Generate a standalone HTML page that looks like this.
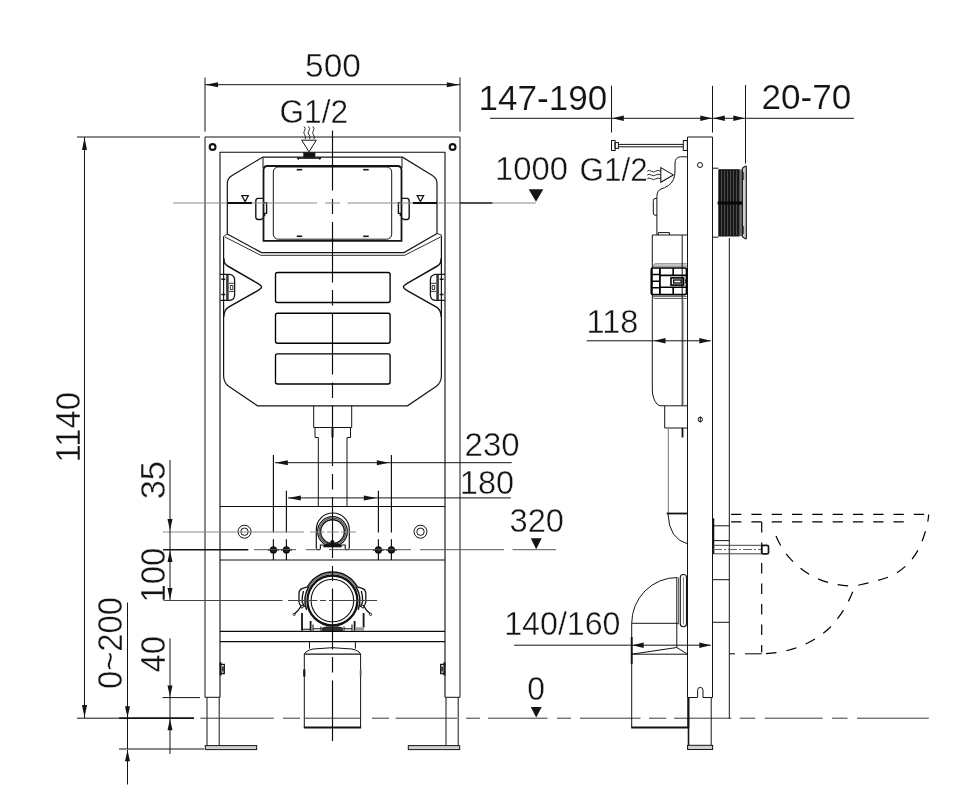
<!DOCTYPE html>
<html lang="en">
<head>
<meta charset="utf-8">
<title>Installation dimensions</title>
<style>
html,body{margin:0;padding:0;background:#fff;}
body{width:960px;height:800px;overflow:hidden;}
svg{display:block;}
svg{will-change:transform;}
svg text{font-family:"Liberation Sans",sans-serif;fill:#141414;stroke:#ffffff;}
</style>
</head>
<body>
<svg width="960" height="800" viewBox="0 0 960 800">
<rect x="0" y="0" width="960" height="800" fill="#ffffff"/>
<line x1="205" y1="77.5" x2="205" y2="131.7" stroke="#141414" stroke-width="1" />
<line x1="460" y1="77.5" x2="460" y2="131.7" stroke="#141414" stroke-width="1" />
<line x1="205" y1="84.7" x2="460" y2="84.7" stroke="#141414" stroke-width="1" />
<polygon points="205.50,84.70 218.00,82.20 218.00,87.20" fill="#141414"/>
<polygon points="459.30,84.70 446.80,82.20 446.80,87.20" fill="#141414"/>
<text x="0" y="0" font-size="32.5" text-anchor="middle" stroke-width="0.4" transform="translate(333 76.8) scale(1.03 1)">500</text>
<text x="0" y="0" font-size="33.3" text-anchor="start" stroke-width="0.4" transform="translate(279.5 122.8) scale(0.95 1)">G1/2</text>
<line x1="77" y1="137" x2="200" y2="137" stroke="#141414" stroke-width="1" />
<line x1="84.5" y1="137" x2="84.5" y2="718" stroke="#141414" stroke-width="1" />
<polygon points="84.50,137.50 82.00,150.00 87.00,150.00" fill="#141414"/>
<polygon points="84.50,717.50 82.00,705.00 87.00,705.00" fill="#141414"/>
<text x="0" y="0" font-size="34.3" text-anchor="end" stroke-width="0.4" transform="translate(79.9 392) rotate(-90) scale(0.955 1)">1140</text>
<path d="M205,697.3 V137 H460 V697.3" stroke="#141414" stroke-width="1" fill="none" />
<path d="M220,697.3 V152.3 H445 V697.3" stroke="#0c0c0c" stroke-width="1.1" fill="none" />
<line x1="205" y1="697.3" x2="220" y2="697.3" stroke="#141414" stroke-width="1" />
<line x1="445" y1="697.3" x2="460" y2="697.3" stroke="#141414" stroke-width="1" />
<circle cx="212.6" cy="147" r="2.9" stroke="#141414" stroke-width="2.1" fill="none"/>
<circle cx="452.6" cy="147" r="2.9" stroke="#141414" stroke-width="2.1" fill="none"/>
<path d="M207,697.3 V745.6 M219.2,697.3 V745.6" stroke="#141414" stroke-width="1" fill="none" />
<path d="M446,697.3 V745.6 M458.2,697.3 V745.6" stroke="#141414" stroke-width="1" fill="none" />
<rect x="205.3" y="745.6" width="51.4" height="4" rx="0" stroke="#141414" stroke-width="1" fill="#cfcfcf"/>
<rect x="408.3" y="745.6" width="51.4" height="4" rx="0" stroke="#141414" stroke-width="1" fill="#cfcfcf"/>
<line x1="220" y1="506.5" x2="445" y2="506.5" stroke="#0c0c0c" stroke-width="1.1" />
<line x1="220" y1="560" x2="445" y2="560" stroke="#0c0c0c" stroke-width="1.2" />
<line x1="220" y1="631.4" x2="445" y2="631.4" stroke="#0c0c0c" stroke-width="1.2" />
<line x1="220" y1="641.7" x2="445" y2="641.7" stroke="#0c0c0c" stroke-width="1.2" />
<path d="M220.6,662.3 v13.2" stroke="#141414" stroke-width="2" fill="none" />
<path d="M221,664.3 h3.3 v9.2 h-3.3 M222.8,666.5 v5" stroke="#141414" stroke-width="1.3" fill="none" />
<path d="M444.4,662.3 v13.2" stroke="#141414" stroke-width="2" fill="none" />
<path d="M444,664.3 h-3.3 v9.2 h3.3 M442.2,666.5 v5" stroke="#141414" stroke-width="1.3" fill="none" />
<path d="M262.5,157.2 H402.5 L432.4,175.6 Q437,178.4 437,183.5 V233.5 M262.5,157.2 L231.7,175.8 Q227.3,178.5 227.3,183.5 V234" stroke="#141414" stroke-width="1.2" fill="none" />
<path d="M227.3,234 L261.5,252.6 H404 L437,233.5" stroke="#141414" stroke-width="1.2" fill="none" />
<path d="M223.5,236.5 L227.3,234 M225,237 L260.8,255.3 H404.7 L440.5,237 M437,233.5 L441.4,235 V237" stroke="#141414" stroke-width="0.9" fill="none" />
<path d="M223.6,236.5 V376 Q223.8,383 229,386.5 L257.5,405.8 H407.5 L436,386.5 Q441.2,383 441.4,376 V236.5" stroke="#141414" stroke-width="1.2" fill="none" />
<path d="M223.80,258.30 C223.90,263.00 225.00,264.50 228.50,266.50 L256.50,282.70 Q261.50,285.60 261.50,287.10 Q261.50,288.60 256.50,291.40 L228.50,307.20 C225.00,309.20 223.90,311.50 223.80,316.80" stroke="#141414" stroke-width="1.5" fill="none" />
<path d="M220.20,274.30 L229.50,274.30 Q234.60,275.00 234.60,280.00 L234.60,295.00 Q234.60,300.00 229.50,300.40 L220.20,300.40" stroke="#141414" stroke-width="1.3" fill="none" />
<path d="M227.40,274.80 L227.40,300.00" stroke="#3a3a3a" stroke-width="2.6" fill="none" />
<path d="M229.00,283.30 L234.20,283.30 M229.00,291.40 L234.20,291.40 M230.30,285.50 L232.80,285.50 232.80,289.50 230.30,289.50 Z" stroke="#333" stroke-width="1" fill="none" />
<path d="M221.40,279.30 L225.30,279.30 M221.40,294.60 L225.30,294.60" stroke="#141414" stroke-width="1.5" fill="none" />
<path d="M441.20,258.30 C441.10,263.00 440.00,264.50 436.50,266.50 L408.50,282.70 Q403.50,285.60 403.50,287.10 Q403.50,288.60 408.50,291.40 L436.50,307.20 C440.00,309.20 441.10,311.50 441.20,316.80" stroke="#141414" stroke-width="1.5" fill="none" />
<path d="M444.80,274.30 L435.50,274.30 Q430.40,275.00 430.40,280.00 L430.40,295.00 Q430.40,300.00 435.50,300.40 L444.80,300.40" stroke="#141414" stroke-width="1.3" fill="none" />
<path d="M437.60,274.80 L437.60,300.00" stroke="#3a3a3a" stroke-width="2.6" fill="none" />
<path d="M436.00,283.30 L430.80,283.30 M436.00,291.40 L430.80,291.40 M434.70,285.50 L432.20,285.50 432.20,289.50 434.70,289.50 Z" stroke="#333" stroke-width="1" fill="none" />
<path d="M443.60,279.30 L439.70,279.30 M443.60,294.60 L439.70,294.60" stroke="#141414" stroke-width="1.5" fill="none" />
<path d="M263.5,170 V240.8 H401.5 V170 Q401.3,166 397.5,166 H267.5 Q263.7,166 263.5,170 Z" stroke="#141414" stroke-width="1.8" fill="none" />
<line x1="263" y1="157.2" x2="263" y2="168" stroke="#141414" stroke-width="1" />
<line x1="402" y1="157.2" x2="402" y2="168" stroke="#141414" stroke-width="1" />
<rect x="273.3" y="167" width="118.4" height="72.2" rx="5" stroke="#141414" stroke-width="1" fill="none"/>
<line x1="296.7" y1="169.7" x2="302.2" y2="169.7" stroke="#141414" stroke-width="1.6" />
<line x1="296.7" y1="236.3" x2="302.2" y2="236.3" stroke="#141414" stroke-width="1.6" />
<line x1="363.2" y1="169.7" x2="368.7" y2="169.7" stroke="#141414" stroke-width="1.6" />
<line x1="363.2" y1="236.3" x2="368.7" y2="236.3" stroke="#141414" stroke-width="1.6" />
<path d="M263.60,198.40 L258.00,198.40 Q255.80,198.60 255.80,201.00 L255.80,217.00 Q255.80,219.30 258.00,219.50 L261.00,219.50 L263.60,217.80" stroke="#141414" stroke-width="1.4" fill="none" />
<path d="M263.60,202.60 L266.60,202.60 266.60,213.40 264.60,213.40 264.60,216.20" stroke="#141414" stroke-width="1.4" fill="none" />
<path d="M401.40,198.40 L407.00,198.40 Q409.20,198.60 409.20,201.00 L409.20,217.00 Q409.20,219.30 407.00,219.50 L404.00,219.50 L401.40,217.80" stroke="#141414" stroke-width="1.4" fill="none" />
<path d="M401.40,202.60 L398.40,202.60 398.40,213.40 400.40,213.40 400.40,216.20" stroke="#141414" stroke-width="1.4" fill="none" />
<line x1="227.3" y1="203" x2="251.7" y2="203" stroke="#000" stroke-width="1.7" />
<line x1="413" y1="203" x2="437" y2="203" stroke="#000" stroke-width="1.7" />
<path d="M241.9,195.7 H248.3 L245.1,201.6 Z" stroke="#141414" stroke-width="1.3" fill="none" />
<path d="M417.2,195.7 H423.6 L420.4,201.6 Z" stroke="#141414" stroke-width="1.3" fill="none" />
<rect x="275.5" y="272.5" width="114.6" height="30.0" rx="2" stroke="#000" stroke-width="1.35" fill="none"/>
<rect x="275.5" y="313.2" width="114.6" height="30.0" rx="2" stroke="#000" stroke-width="1.35" fill="none"/>
<rect x="275.5" y="353.9" width="114.6" height="30.100000000000023" rx="2" stroke="#000" stroke-width="1.35" fill="none"/>
<path d="M301.7,140.2 H316.3 L309,151.8 Z" stroke="#141414" stroke-width="1" fill="none" />
<rect x="303.3" y="152.3" width="12" height="5.2" fill="#141414"/>
<line x1="297.5" y1="158.2" x2="321" y2="158.2" stroke="#141414" stroke-width="1.3" />
<polygon points="296.6,157.4 299.6,157.4 298.6,160.2" fill="#141414"/><polygon points="318.6,157.4 321.6,157.4 319.6,160.2" fill="#141414"/>
<path d="M304.0,126.5 q2,1.8 0.6,4 q-1.6,2.2 0,4.2 q1.6,2 0.6,4.3" stroke="#141414" stroke-width="0.9" fill="none" />
<path d="M308.4,126.5 q2,1.8 0.6,4 q-1.6,2.2 0,4.2 q1.6,2 0.6,4.3" stroke="#141414" stroke-width="0.9" fill="none" />
<path d="M312.79999999999995,126.5 q2,1.8 0.6,4 q-1.6,2.2 0,4.2 q1.6,2 0.6,4.3" stroke="#141414" stroke-width="0.9" fill="none" />
<path d="M313.7,405.8 V427.5 H351.7 V405.8" stroke="#141414" stroke-width="1" fill="none" />
<path d="M315,427.5 V437.5 H318.3 V506.3 M350.5,427.5 V437.5 H347 V506.3" stroke="#141414" stroke-width="1" fill="none" />
<line x1="332.5" y1="427.5" x2="332.5" y2="437.5" stroke="#141414" stroke-width="2" />
<path d="M316.3,548.3 V529.5 A16.5,16.5 0 0 1 349.3,529.5 V548.3" stroke="#141414" stroke-width="1.2" fill="none" />
<circle cx="332.5" cy="531.6" r="14.9" stroke="#141414" stroke-width="1.2" fill="none"/>
<circle cx="332.5" cy="531.6" r="13.4" stroke="#555" stroke-width="1.3" fill="none"/>
<circle cx="332.5" cy="531.6" r="11.9" stroke="#141414" stroke-width="1.4" fill="none"/>
<path d="M316.3,548.3 Q316.5,549.6 318,549.6 H319.3 Q320.4,549.5 320.4,548.3 V545 H323.5 M349.3,548.3 Q349.1,549.6 347.6,549.6 H346.3 Q345.2,549.5 345.2,548.3 V545 H341.5" stroke="#141414" stroke-width="1.1" fill="none" />
<path d="M323.6,547 V545.3 L327,543.8 H330.8 V541 Q332.4,539.6 334,541 V543.8 H338 L341.4,545.3 V547 Z" stroke="#141414" stroke-width="0.6" fill="#141414" />
<circle cx="244.5" cy="531.7" r="6.5" stroke="#141414" stroke-width="1" fill="none"/>
<circle cx="244.5" cy="531.7" r="3.7" stroke="#141414" stroke-width="1" fill="none"/>
<circle cx="420.5" cy="531.7" r="6.5" stroke="#141414" stroke-width="1" fill="none"/>
<circle cx="420.5" cy="531.7" r="3.7" stroke="#141414" stroke-width="1" fill="none"/>
<circle cx="332.4" cy="600.5" r="21.3" stroke="#141414" stroke-width="1.1" fill="none"/>
<circle cx="332.4" cy="600.5" r="25" stroke="#141414" stroke-width="2.3" fill="none"/>
<path d="M356.24,587.82 A27.0,27.0 0 0 0 308.56,587.82" stroke="#777" stroke-width="1.6" fill="none" />
<path d="M357.48,587.17 A28.4,28.4 0 0 0 307.32,587.17" stroke="#141414" stroke-width="1.5" fill="none" />
<path d="M308.67,586.80 A27.4,27.4 0 0 0 306.65,609.87" stroke="#141414" stroke-width="1.5" fill="none" />
<path d="M358.15,609.87 A27.4,27.4 0 0 0 356.13,586.80" stroke="#141414" stroke-width="1.5" fill="none" />
<path d="M307.5,586.8 L302.5,588.3 Q299.2,589.5 299,593 V602 Q299.3,604.5 301,606 L298,610.5 L294.6,613.8 M303.5,591 Q301.8,596 302.2,602 L304.5,607" stroke="#141414" stroke-width="1.3" fill="none" />
<path d="M357.3,586.8 L362.3,588.3 Q365.6,589.5 365.8,593 V602 Q365.5,604.5 363.8,606 L366.8,610.5 L370.2,613.8 M361.3,591 Q363,596 362.6,602 L360.3,607" stroke="#141414" stroke-width="1.3" fill="none" />
<circle cx="301.9" cy="606.6" r="1.4" stroke="#141414" stroke-width="1" fill="none"/>
<circle cx="362.9" cy="606.6" r="1.4" stroke="#141414" stroke-width="1" fill="none"/>
<circle cx="294.2" cy="614.4" r="1.1" stroke="#141414" stroke-width="0.9" fill="none"/>
<circle cx="370.6" cy="614.4" r="1.1" stroke="#141414" stroke-width="0.9" fill="none"/>
<path d="M302,613 V630.8 M310.6,621 V630.8 M363.6,613 V627.5 M354.6,621 V630.8" stroke="#141414" stroke-width="1.8" fill="none" />
<path d="M302,629.3 H310.6 M313,624.5 V630.8 M321,626.5 V630.8 M313,628.8 H321 M344,626.5 V630.8 M352,624.5 V630.8 M344,628.8 H352" stroke="#141414" stroke-width="1.1" fill="none" />
<rect x="355.5" y="627.3" width="8.6" height="3.5" fill="#9a9a9a"/>
<path d="M322.3,630.5 V628 Q327,626 332.4,627.2 Q338,626 342.5,628 V630.5 Z" stroke="#141414" stroke-width="0.8" fill="#333" />
<path d="M309.5,641.8 V648.7 M355.4,641.8 V648.7" stroke="#141414" stroke-width="1" fill="none" />
<path d="M304.3,727.5 V654 L306,652 Q309,649.6 313,649 Q332.4,646.4 352,649 Q356,649.6 359,652 L360.6,654 V727.5" stroke="#141414" stroke-width="1" fill="none" />
<line x1="304.3" y1="654.1" x2="360.6" y2="654.1" stroke="#141414" stroke-width="1.3" />
<line x1="304.3" y1="669.5" x2="304.3" y2="676.5" stroke="#141414" stroke-width="2.2" />
<line x1="360.6" y1="669.5" x2="360.6" y2="676.5" stroke="#555" stroke-width="1.6" />
<line x1="303.8" y1="727.5" x2="361.1" y2="727.5" stroke="#141414" stroke-width="2" />
<line x1="332.5" y1="130.5" x2="332.5" y2="190.5" stroke="#0a0a0a" stroke-width="1.15" />
<line x1="332.5" y1="199" x2="332.5" y2="214" stroke="#0a0a0a" stroke-width="1.15" />
<line x1="332.5" y1="222" x2="332.5" y2="282.5" stroke="#0a0a0a" stroke-width="1.15" />
<line x1="332.5" y1="290" x2="332.5" y2="305.5" stroke="#0a0a0a" stroke-width="1.15" />
<line x1="332.5" y1="313" x2="332.5" y2="374.5" stroke="#0a0a0a" stroke-width="1.15" />
<line x1="332.5" y1="382.5" x2="332.5" y2="398" stroke="#0a0a0a" stroke-width="1.15" />
<line x1="332.5" y1="405.5" x2="332.5" y2="466" stroke="#0a0a0a" stroke-width="1.15" />
<line x1="332.5" y1="474" x2="332.5" y2="489.5" stroke="#0a0a0a" stroke-width="1.15" />
<line x1="332.5" y1="497" x2="332.5" y2="558" stroke="#0a0a0a" stroke-width="1.15" />
<line x1="332.5" y1="566" x2="332.5" y2="581" stroke="#0a0a0a" stroke-width="1.15" />
<line x1="332.5" y1="588.5" x2="332.5" y2="649.5" stroke="#0a0a0a" stroke-width="1.15" />
<line x1="332.5" y1="657" x2="332.5" y2="672.5" stroke="#0a0a0a" stroke-width="1.15" />
<line x1="332.5" y1="680.5" x2="332.5" y2="741" stroke="#0a0a0a" stroke-width="1.15" />
<line x1="173" y1="203" x2="317" y2="203" stroke="#8a8a8a" stroke-width="1" />
<line x1="325" y1="203" x2="340" y2="203" stroke="#8a8a8a" stroke-width="1" />
<line x1="347.5" y1="203" x2="460" y2="203" stroke="#8a8a8a" stroke-width="1" />
<line x1="227.3" y1="203" x2="251.7" y2="203" stroke="#000" stroke-width="1.7" />
<line x1="413" y1="203" x2="437" y2="203" stroke="#000" stroke-width="1.7" />
<line x1="460" y1="203" x2="492.5" y2="203" stroke="#141414" stroke-width="1.5" />
<line x1="492.5" y1="203" x2="536" y2="203" stroke="#8a8a8a" stroke-width="1" />
<polygon points="528.7,189.3 543.3,189.3 536,201.8" fill="#141414"/>
<text x="0" y="0" font-size="33.3" text-anchor="end" stroke-width="0.4" transform="translate(568 180.3) scale(0.985 1)">1000</text>
<text x="0" y="0" font-size="33.3" text-anchor="start" stroke-width="0.4" transform="translate(579.6 180.8) scale(0.945 1)">G1/2</text>
<line x1="273.4" y1="455" x2="273.4" y2="532.5" stroke="#0c0c0c" stroke-width="1.15" />
<line x1="273.4" y1="539.2" x2="273.4" y2="560" stroke="#0c0c0c" stroke-width="1.15" />
<line x1="391.4" y1="455" x2="391.4" y2="532.5" stroke="#0c0c0c" stroke-width="1.15" />
<line x1="391.4" y1="539.2" x2="391.4" y2="560" stroke="#0c0c0c" stroke-width="1.15" />
<line x1="286.4" y1="490.8" x2="286.4" y2="532.5" stroke="#0c0c0c" stroke-width="1.15" />
<line x1="286.4" y1="539.2" x2="286.4" y2="560" stroke="#0c0c0c" stroke-width="1.15" />
<line x1="378.4" y1="490.8" x2="378.4" y2="532.5" stroke="#0c0c0c" stroke-width="1.15" />
<line x1="378.4" y1="539.2" x2="378.4" y2="560" stroke="#0c0c0c" stroke-width="1.15" />
<line x1="275" y1="462.7" x2="511.7" y2="462.7" stroke="#141414" stroke-width="1" />
<polygon points="275.30,462.70 287.80,460.20 287.80,465.20" fill="#141414"/>
<polygon points="389.30,462.70 376.80,460.20 376.80,465.20" fill="#141414"/>
<line x1="288" y1="497.9" x2="510.8" y2="497.9" stroke="#141414" stroke-width="1" />
<polygon points="288.30,497.90 300.80,495.40 300.80,500.40" fill="#141414"/>
<polygon points="376.30,497.90 363.80,495.40 363.80,500.40" fill="#141414"/>
<text x="0" y="0" font-size="33" text-anchor="start" stroke-width="0.4" transform="translate(464.6 455.8) scale(1.0 1)">230</text>
<text x="0" y="0" font-size="33" text-anchor="end" stroke-width="0.4" transform="translate(514.1 493.8) scale(0.985 1)">180</text>
<circle cx="273.4" cy="549.9" r="3.0" stroke="#0c0c0c" stroke-width="1.2" fill="#222"/>
<line x1="267.9" y1="549.8" x2="278.9" y2="549.8" stroke="#0c0c0c" stroke-width="1.5" />
<circle cx="286.4" cy="549.9" r="3.0" stroke="#0c0c0c" stroke-width="1.2" fill="#222"/>
<line x1="280.9" y1="549.8" x2="291.9" y2="549.8" stroke="#0c0c0c" stroke-width="1.5" />
<circle cx="378.4" cy="549.9" r="3.0" stroke="#0c0c0c" stroke-width="1.2" fill="#222"/>
<line x1="372.9" y1="549.8" x2="383.9" y2="549.8" stroke="#0c0c0c" stroke-width="1.5" />
<circle cx="391.4" cy="549.9" r="3.0" stroke="#0c0c0c" stroke-width="1.2" fill="#222"/>
<line x1="385.9" y1="549.8" x2="396.9" y2="549.8" stroke="#0c0c0c" stroke-width="1.5" />
<line x1="163" y1="532" x2="304" y2="532" stroke="#8a8a8a" stroke-width="1" />
<line x1="310" y1="532" x2="324.5" y2="532" stroke="#8a8a8a" stroke-width="1" />
<line x1="327" y1="532" x2="338.7" y2="532" stroke="#8a8a8a" stroke-width="1" />
<line x1="341" y1="532" x2="356" y2="532" stroke="#8a8a8a" stroke-width="1" />
<line x1="163" y1="549.7" x2="248.3" y2="549.7" stroke="#141414" stroke-width="1.6" />
<line x1="254" y1="549.7" x2="296" y2="549.7" stroke="#555" stroke-width="1" />
<line x1="305.8" y1="549.7" x2="320" y2="549.7" stroke="#555" stroke-width="1" />
<line x1="329" y1="549.7" x2="411" y2="549.7" stroke="#555" stroke-width="1" />
<line x1="420" y1="549.7" x2="504" y2="549.7" stroke="#555" stroke-width="1" />
<line x1="512.5" y1="549.7" x2="556" y2="549.7" stroke="#555" stroke-width="1" />
<polygon points="530.8,538.3 541.7,538.3 536.2,549.3" fill="#141414"/>
<text x="0" y="0" font-size="33" text-anchor="start" stroke-width="0.4" transform="translate(509.5 532.2) scale(0.99 1)">320</text>
<line x1="163" y1="600.5" x2="282.5" y2="600.5" stroke="#444" stroke-width="1" />
<line x1="288" y1="600.5" x2="317.5" y2="600.5" stroke="#444" stroke-width="1" />
<line x1="320" y1="600.5" x2="326" y2="600.5" stroke="#444" stroke-width="1" />
<line x1="329" y1="600.5" x2="377" y2="600.5" stroke="#444" stroke-width="1" />
<line x1="170" y1="460" x2="170" y2="600.5" stroke="#141414" stroke-width="1" />
<polygon points="170.00,530.50 167.50,519.00 172.50,519.00" fill="#141414"/>
<polygon points="170.00,550.50 167.50,562.00 172.50,562.00" fill="#141414"/>
<polygon points="170.00,599.50 167.50,588.00 172.50,588.00" fill="#141414"/>
<text x="0" y="0" font-size="34.3" text-anchor="middle" stroke-width="0.4" transform="translate(164.9 480.2) rotate(-90) scale(1.0 1)">35</text>
<text x="0" y="0" font-size="34.3" text-anchor="end" stroke-width="0.4" transform="translate(164.9 547.8) rotate(-90) scale(0.955 1)">100</text>
<line x1="170" y1="638.3" x2="170" y2="754" stroke="#141414" stroke-width="1" />
<polygon points="170.00,696.80 167.50,685.60 172.50,685.60" fill="#141414"/>
<polygon points="170.00,719.00 167.50,730.20 172.50,730.20" fill="#141414"/>
<text x="0" y="0" font-size="34.3" text-anchor="middle" stroke-width="0.4" transform="translate(164.9 654.2) rotate(-90) scale(0.955 1)">40</text>
<line x1="162.5" y1="697.6" x2="200" y2="697.6" stroke="#141414" stroke-width="1" />
<line x1="127.5" y1="602.5" x2="127.5" y2="749" stroke="#141414" stroke-width="1" />
<polygon points="127.50,717.50 125.00,706.30 130.00,706.30" fill="#141414"/>
<polygon points="127.50,750.00 125.00,761.20 130.00,761.20" fill="#141414"/>
<line x1="127.5" y1="750" x2="127.5" y2="784.5" stroke="#141414" stroke-width="1" />
<text x="0" y="0" font-size="34.3" text-anchor="middle" stroke-width="0.4" transform="translate(121.9 643) rotate(-90) scale(0.957 1)">0~200</text>
<line x1="119" y1="749" x2="204" y2="749" stroke="#141414" stroke-width="1" />
<line x1="77" y1="718.2" x2="119" y2="718.2" stroke="#141414" stroke-width="1" />
<line x1="119" y1="718.2" x2="194" y2="718.2" stroke="#141414" stroke-width="1.7" />
<line x1="200.3" y1="718.2" x2="273.8" y2="718.2" stroke="#3a3a3a" stroke-width="1" />
<line x1="283" y1="718.2" x2="300" y2="718.2" stroke="#3a3a3a" stroke-width="1" />
<line x1="305" y1="718.2" x2="361" y2="718.2" stroke="#3a3a3a" stroke-width="1" />
<line x1="372" y1="718.2" x2="389" y2="718.2" stroke="#3a3a3a" stroke-width="1" />
<line x1="395.6" y1="718.2" x2="457" y2="718.2" stroke="#3a3a3a" stroke-width="1" />
<line x1="466" y1="718.2" x2="480" y2="718.2" stroke="#3a3a3a" stroke-width="1" />
<line x1="488" y1="718.2" x2="547.5" y2="718.2" stroke="#3a3a3a" stroke-width="1" />
<line x1="557" y1="718.2" x2="571" y2="718.2" stroke="#3a3a3a" stroke-width="1" />
<line x1="580" y1="718.2" x2="640.5" y2="718.2" stroke="#3a3a3a" stroke-width="1" />
<line x1="649" y1="718.2" x2="666.4" y2="718.2" stroke="#3a3a3a" stroke-width="1" />
<line x1="674" y1="718.2" x2="731.3" y2="718.2" stroke="#3a3a3a" stroke-width="1" />
<line x1="739.7" y1="718.2" x2="755.3" y2="718.2" stroke="#3a3a3a" stroke-width="1" />
<line x1="764.7" y1="718.2" x2="822.5" y2="718.2" stroke="#3a3a3a" stroke-width="1" />
<line x1="832" y1="718.2" x2="847.5" y2="718.2" stroke="#3a3a3a" stroke-width="1" />
<line x1="857" y1="718.2" x2="928.8" y2="718.2" stroke="#3a3a3a" stroke-width="1" />
<polygon points="530.8,707 541.7,707 536.2,717.6" fill="#141414"/>
<text x="0" y="0" font-size="32.5" text-anchor="middle" stroke-width="0.4" transform="translate(536.1 700.3) scale(0.98 1)">0</text>
<line x1="611.5" y1="85.8" x2="611.5" y2="132.5" stroke="#141414" stroke-width="1" />
<line x1="712.5" y1="85.8" x2="712.5" y2="132.5" stroke="#141414" stroke-width="1" />
<line x1="745.5" y1="85" x2="745.5" y2="163.5" stroke="#141414" stroke-width="1" />
<line x1="490" y1="118.3" x2="854" y2="118.3" stroke="#141414" stroke-width="1" />
<polygon points="612.30,118.30 623.80,115.50 623.80,121.10" fill="#141414"/>
<polygon points="711.80,118.30 700.30,115.50 700.30,121.10" fill="#141414"/>
<polygon points="713.30,118.30 724.80,115.50 724.80,121.10" fill="#141414"/>
<polygon points="744.80,118.30 733.30,115.50 733.30,121.10" fill="#141414"/>
<text x="0" y="0" font-size="35.4" text-anchor="end" stroke-width="0.2" transform="translate(607.2 110) scale(0.99 1)">147-190</text>
<text x="0" y="0" font-size="35.4" text-anchor="start" stroke-width="0.2" transform="translate(761.6 109.2) scale(0.99 1)">20-70</text>
<rect x="611.5" y="140.5" width="3.6" height="10" rx="0" stroke="#141414" stroke-width="1" fill="none"/>
<rect x="615.1" y="142.6" width="3.3" height="5.8" rx="0" stroke="#141414" stroke-width="1" fill="none"/>
<line x1="618.4" y1="144.4" x2="683.3" y2="144.4" stroke="#141414" stroke-width="1" />
<line x1="618.4" y1="146.8" x2="683.3" y2="146.8" stroke="#141414" stroke-width="1" />
<rect x="683.3" y="140.5" width="4" height="10" rx="0" stroke="#141414" stroke-width="1" fill="none"/>
<path d="M687.5,697.5 V137 H712.5 V697.5" stroke="#141414" stroke-width="1" fill="none" />
<circle cx="700" cy="165" r="2.5" stroke="#141414" stroke-width="1" fill="none"/>
<circle cx="700.3" cy="419.5" r="2.2" stroke="#141414" stroke-width="1" fill="none"/>
<line x1="700.3" y1="416.5" x2="700.3" y2="422.5" stroke="#141414" stroke-width="1" />
<path d="M687.5,697.5 H697.6 V690.5 Q697.6,687.3 700.3,687.3 Q703,687.3 703,690.5 V697.5 H712.5" stroke="#141414" stroke-width="1" fill="none" />
<path d="M688.5,697.5 V749" stroke="#141414" stroke-width="1.6" fill="none" />
<path d="M711.2,697.5 V749" stroke="#141414" stroke-width="1" fill="none" />
<rect x="687.6" y="745.3" width="25" height="4.2" rx="0" stroke="#141414" stroke-width="1" fill="#cfcfcf"/>
<line x1="729.3" y1="238" x2="729.3" y2="718.3" stroke="#141414" stroke-width="1" />
<path d="M687.5,156.8 H680.5 Q675.2,157.2 675,163 V171 Q675,181 668.5,185.5 Q664,188.3 661,189 Q657,190.5 656.9,196.5 V235 M656.9,198.5 H655 Q653.3,198.7 653.3,200.5 V213 Q653.3,215 655,215.2 H656.9 M658.3,235 V232.6 H669.5 V235" stroke="#141414" stroke-width="1" fill="none" />
<path d="M660.8,167.6 V182.2 L673.3,174.9 Z" stroke="#141414" stroke-width="1.1" fill="none" />
<path d="M647.3,171.2 q2,-1.6 4,0 q2.2,1.6 4.4,0 q2.2,-1.6 5,0" stroke="#141414" stroke-width="0.9" fill="none" />
<path d="M647.3,175 q2,-1.6 4,0 q2.2,1.6 4.4,0 q2.2,-1.6 5,0" stroke="#141414" stroke-width="0.9" fill="none" />
<path d="M647.3,178.8 q2,-1.6 4,0 q2.2,1.6 4.4,0 q2.2,-1.6 5,0" stroke="#141414" stroke-width="0.9" fill="none" />
<path d="M687.5,235 H652.3 V390 Q652.6,399 657,404 Q658.5,405.8 661,405.8 H687.5" stroke="#141414" stroke-width="1" fill="none" />
<line x1="682.2" y1="235" x2="682.2" y2="405.8" stroke="#141414" stroke-width="1" />
<line x1="683.6" y1="300" x2="683.6" y2="405.8" stroke="#777" stroke-width="0.6" />
<path d="M653.3,265.2 L655,263.9 H686.7 M652.6,267 L654,266.1 H686.7 M652.6,295.8 L654,296.6 H686.7 M653.3,297.6 L655,298.5 H686.7" stroke="#222" stroke-width="0.7" fill="none" />
<rect x="651.3" y="268" width="35.2" height="26.6" rx="1.5" stroke="#000" stroke-width="1.7" fill="none"/>
<path d="M659.9,268 V294.6" stroke="#000" stroke-width="1.8" fill="none" />
<path d="M651.5,274.6 H659.5 M651.5,281.2 H659.5 M651.5,287.8 H659.5" stroke="#000" stroke-width="1.5" fill="none" />
<path d="M660,275.4 H686.3 M660,287.2 H686.3 M673.2,268 V275.4 M673.2,287.2 V294.6" stroke="#000" stroke-width="1.6" fill="none" />
<rect x="671" y="277.9" width="12.6" height="7.2" rx="0" stroke="#000" stroke-width="1.6" fill="none"/>
<rect x="673.6" y="280" width="7.6" height="3" rx="0" stroke="#000" stroke-width="1.3" fill="none"/>
<path d="M685.3,279.5 L686.6,281.3 L685.3,283" stroke="#000" stroke-width="1.3" fill="none" />
<line x1="586.7" y1="340.8" x2="710.8" y2="340.8" stroke="#141414" stroke-width="1" />
<polygon points="654.00,340.80 665.50,338.00 665.50,343.60" fill="#141414"/>
<polygon points="710.80,340.80 699.30,338.00 699.30,343.60" fill="#141414"/>
<text x="0" y="0" font-size="33" text-anchor="end" stroke-width="0.4" transform="translate(638.3 333.3) scale(0.985 1)">118</text>
<path d="M664.7,405.8 V428 H687.5" stroke="#141414" stroke-width="1" fill="none" />
<line x1="682.5" y1="428" x2="682.5" y2="437.5" stroke="#141414" stroke-width="1.8" />
<line x1="668.3" y1="428" x2="668.3" y2="513.5" stroke="#777" stroke-width="1" />
<line x1="666.7" y1="513.5" x2="687.5" y2="513.5" stroke="#141414" stroke-width="1.8" />
<path d="M668,514 Q669,539 687.5,543.8" stroke="#141414" stroke-width="1" fill="none" />
<line x1="713.4" y1="518.3" x2="713.4" y2="554" stroke="#141414" stroke-width="1.8" />
<line x1="712.5" y1="525.8" x2="729.3" y2="525.8" stroke="#141414" stroke-width="1" />
<line x1="712.5" y1="540.6" x2="729.3" y2="540.6" stroke="#141414" stroke-width="1" />
<line x1="712.5" y1="579.7" x2="729.3" y2="579.7" stroke="#141414" stroke-width="1" />
<line x1="712.5" y1="622.3" x2="729.3" y2="622.3" stroke="#141414" stroke-width="1" />
<path d="M713,545.3 H761.7 M713,553.8 H761.7" stroke="#444" stroke-width="1" fill="none" />
<line x1="713" y1="549.5" x2="761.7" y2="549.5" stroke="#666" stroke-width="1" stroke-dasharray="9 2 2 2"/>
<rect x="761.7" y="545.3" width="6.8" height="8.6" rx="1.5" stroke="#141414" stroke-width="1.7" fill="none"/>
<line x1="729.3" y1="514.3" x2="928.7" y2="514.3" stroke="#000" stroke-width="1.2" stroke-dasharray="10.3 10" stroke-dashoffset="-1.8"/>
<line x1="729.3" y1="521.8" x2="912" y2="521.8" stroke="#000" stroke-width="1.2" stroke-dasharray="10.3 10" stroke-dashoffset="-1.8"/>
<line x1="761.7" y1="522" x2="761.7" y2="652.5" stroke="#000" stroke-width="1.2" stroke-dasharray="10.5 10"/>
<line x1="729.3" y1="653.8" x2="735" y2="653.8" stroke="#141414" stroke-width="1.1" />
<line x1="745" y1="653.8" x2="761.7" y2="653.8" stroke="#141414" stroke-width="1.1" />
<path d="M766,653.6 C792,652.5 815,642 830,627.5 C842,615 850,600 855,586" stroke="#000" stroke-width="1.2" fill="none" stroke-dasharray="10.5 10"/>
<path d="M776,536 C783,553 795,566 811,575.5 C825,583 840,586.3 855,586 C868,583 880,580.5 890,576.5 C905,569.5 915,558 921,544 C925,534 928,524 928.7,514.5" stroke="#000" stroke-width="1.2" fill="none" stroke-dasharray="10.5 10"/>
<path d="M631.7,623.3 A45.6,45.8 0 0 1 677.3,577.5" stroke="#141414" stroke-width="1" fill="none" />
<line x1="631.7" y1="623.3" x2="678.3" y2="623.3" stroke="#141414" stroke-width="1" />
<line x1="676.8" y1="577.5" x2="676.8" y2="647.5" stroke="#141414" stroke-width="1" />
<line x1="678.6" y1="577.5" x2="678.6" y2="624.5" stroke="#444" stroke-width="0.9" />
<rect x="680.3" y="574.5" width="6.2" height="52.3" rx="3" stroke="#141414" stroke-width="1.1" fill="none"/>
<line x1="683.4" y1="577" x2="683.4" y2="624.5" stroke="#666" stroke-width="0.8" />
<path d="M631.7,623.3 V727.5 M687.5,654.2 H631.7 L676.8,647.5 L687.5,654.2" stroke="#141414" stroke-width="1" fill="none" />
<line x1="631.2" y1="727.5" x2="688" y2="727.5" stroke="#141414" stroke-width="2" />
<line x1="631.7" y1="637" x2="631.7" y2="664" stroke="#141414" stroke-width="1.9" />
<line x1="688.3" y1="697.5" x2="688.3" y2="727.5" stroke="#141414" stroke-width="2" />
<line x1="514.2" y1="645.2" x2="710.8" y2="645.2" stroke="#141414" stroke-width="1" />
<polygon points="632.20,645.20 643.70,642.40 643.70,648.00" fill="#141414"/>
<polygon points="710.80,645.20 699.30,642.40 699.30,648.00" fill="#141414"/>
<text x="0" y="0" font-size="32.5" text-anchor="end" stroke-width="0.4" transform="translate(620.5 635) scale(0.99 1)">140/160</text>
<path d="M712.5,168.2 H718.4 M712.5,237.2 H718.4" stroke="#141414" stroke-width="1" fill="none" />
<rect x="718.3" y="169.2" width="21.5" height="67.3" fill="#151515"/>
<rect x="739.6" y="169.6" width="2.8" height="66.5" fill="#6e6e6e"/>
<line x1="721.6" y1="170.5" x2="721.6" y2="235.5" stroke="#8c8c8c" stroke-width="0.5" />
<line x1="724.6" y1="170.5" x2="724.6" y2="235.5" stroke="#8c8c8c" stroke-width="0.5" />
<line x1="727.6" y1="170.5" x2="727.6" y2="235.5" stroke="#8c8c8c" stroke-width="0.5" />
<line x1="730.6" y1="170.5" x2="730.6" y2="235.5" stroke="#8c8c8c" stroke-width="0.5" />
<line x1="733.6" y1="170.5" x2="733.6" y2="235.5" stroke="#8c8c8c" stroke-width="0.5" />
<line x1="736.6" y1="170.5" x2="736.6" y2="235.5" stroke="#8c8c8c" stroke-width="0.5" />
<rect x="717.6" y="201.4" width="25" height="3.2" fill="#0a0a0a"/>
<path d="M742.4,168.3 L745.2,166.3 H746.3 V238.7 H745.2 L742.4,236.8 Z" stroke="#111" stroke-width="1.1" fill="#d0d0d0" />
<line x1="743.6" y1="172" x2="743.6" y2="180" stroke="#444" stroke-width="1" />
<line x1="743.6" y1="226" x2="743.6" y2="234" stroke="#444" stroke-width="1" />
</svg>
</body>
</html>
